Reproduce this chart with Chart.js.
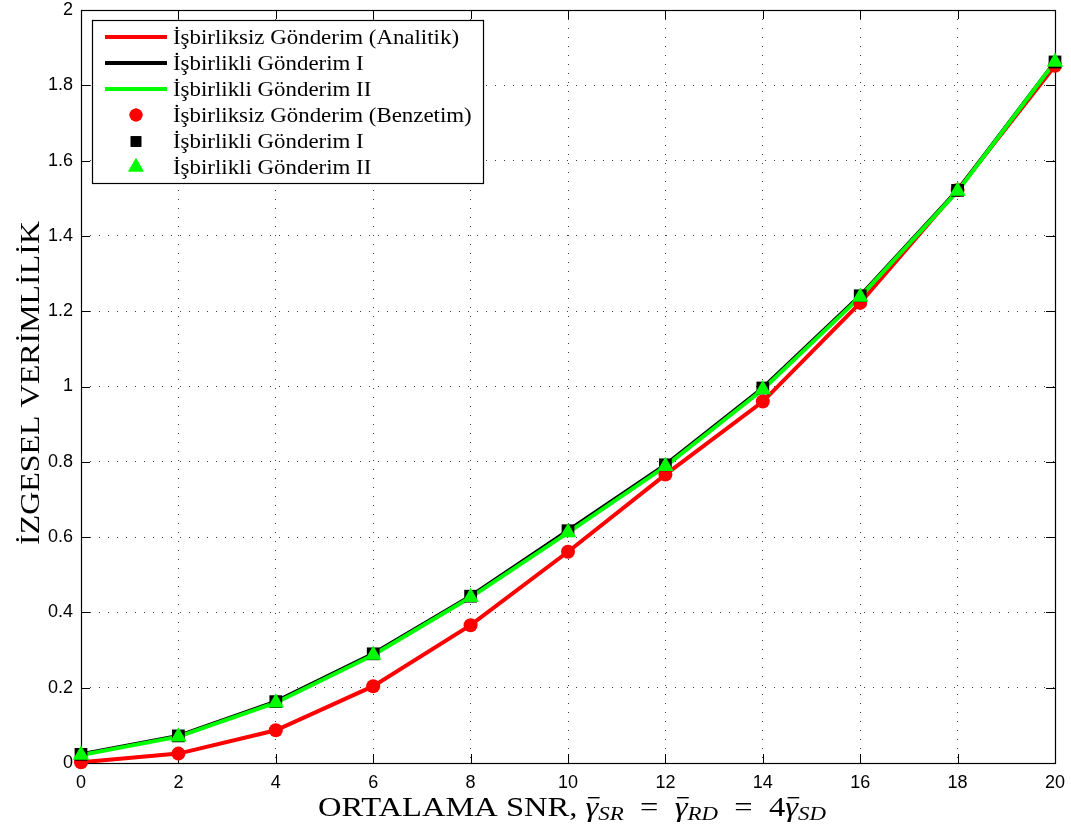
<!DOCTYPE html>
<html>
<head>
<meta charset="utf-8">
<script src="https://cdn.jsdelivr.net/npm/chart.js@4.4.1/dist/chart.umd.min.js"></script>
<style>
  html, body { margin: 0; padding: 0; background: #fff; }
</style>
</head>
<body>
<canvas id="verim" width="1071" height="834"></canvas>
<script>
// SNR (dB) values on the x axis
const snr = [0, 2, 4, 6, 8, 10, 12, 14, 16, 18, 20];
// spectral efficiency for each scheme
const isbirliksiz = [0.002, 0.025, 0.087, 0.204, 0.366, 0.561, 0.766, 0.960, 1.222, 1.522, 1.852];
const isbirlikliI = [0.023, 0.072, 0.163, 0.290, 0.443, 0.617, 0.792, 0.996, 1.241, 1.521, 1.862];
const isbirlikliII = [0.021, 0.070, 0.160, 0.287, 0.440, 0.612, 0.788, 0.992, 1.238, 1.519, 1.862];
const xTicks = [0, 2, 4, 6, 8, 10, 12, 14, 16, 18, 20];
const yTicks = [0, 0.2, 0.4, 0.6, 0.8, 1, 1.2, 1.4, 1.6, 1.8, 2];

const seriesLabels = [
  'İşbirliksiz Gönderim (Analitik)',
  'İşbirlikli Gönderim I',
  'İşbirlikli Gönderim II',
  'İşbirliksiz Gönderim (Benzetim)',
  'İşbirlikli Gönderim I',
  'İşbirlikli Gönderim II'
];

const SERIF = '"Liberation Serif", "DejaVu Serif", serif';
const SANS = '"Liberation Sans", Arial, sans-serif';

const pts = ys => snr.map((x, i) => ({ x: x, y: ys[i] }));

function lineSet(label, ys, color, order) {
  return {
    label: label, data: pts(ys), borderColor: color, backgroundColor: color,
    borderWidth: 4, pointRadius: 0, tension: 0, order: order, kind: 'line'
  };
}
function markSet(label, ys, color, style, r, order) {
  return {
    label: label, data: pts(ys), showLine: false, borderColor: color,
    backgroundColor: color, borderWidth: 0, pointStyle: style, pointRadius: r,
    pointHoverRadius: r, order: order, clip: false, kind: 'mark'
  };
}

const datasets = [
  lineSet(seriesLabels[0], isbirliksiz, '#ff0000', 6),
  lineSet(seriesLabels[1], isbirlikliI, '#000000', 5),
  lineSet(seriesLabels[2], isbirlikliII, '#00ff00', 4),
  markSet(seriesLabels[3], isbirliksiz, '#ff0000', 'circle', 7, 3),
  markSet(seriesLabels[4], isbirlikliI, '#000000', 'rect', 9, 2),
  markSet(seriesLabels[5], isbirlikliII, '#00ff00', 'triangle', 9.5, 1)
];

// draws text stretched horizontally so it spans `width` pixels
function fitText(ctx, text, x, y, width) {
  const w = ctx.measureText(text).width;
  ctx.save();
  ctx.translate(x, y);
  ctx.scale(width / w, 1);
  ctx.fillText(text, 0, 0);
  ctx.restore();
}

// frame, inward ticks, axis titles and the boxed legend
const matlabLook = {
  id: 'matlabLook',
  beforeDatasetsDraw(chart) {
    const { ctx, chartArea: a, scales } = chart;
    ctx.save();
    ctx.strokeStyle = '#000';
    ctx.lineWidth = 1;
    ctx.beginPath();
    const tl = 9;
    xTicks.forEach(v => {
      const px = Math.round(scales.x.getPixelForValue(v)) + 0.5;
      ctx.moveTo(px, a.bottom); ctx.lineTo(px, a.bottom - tl);
      ctx.moveTo(px, a.top); ctx.lineTo(px, a.top + tl);
    });
    yTicks.forEach(v => {
      const py = Math.round(scales.y.getPixelForValue(v)) + 0.5;
      ctx.moveTo(a.left, py); ctx.lineTo(a.left + tl, py);
      ctx.moveTo(a.right, py); ctx.lineTo(a.right - tl, py);
    });
    ctx.stroke();
    ctx.lineWidth = 1.2;
    ctx.strokeRect(Math.round(a.left) + 0.5, Math.round(a.top) + 0.5,
      Math.round(a.right - a.left), Math.round(a.bottom - a.top));
    ctx.restore();
  },
  afterDraw(chart) {
    const { ctx, chartArea: a } = chart;
    ctx.save();
    ctx.fillStyle = '#000';

    // y axis title
    ctx.save();
    ctx.translate(32, 383);
    ctx.rotate(-Math.PI / 2);
    ctx.font = '28px ' + SERIF;
    ctx.textBaseline = 'middle';
    const yt = 'İZGESEL VERİMLİLİK';
    fitText(ctx, yt, -162, 0, 324);
    ctx.restore();

    // x axis title with barred gammas and subscripts
    const sp = '\u2002';
    const parts = [
      { t: 'ORTALAMA SNR, ', f: '27px ' + SERIF },
      { t: 'γ', f: 'italic 27px ' + SERIF, bar: true },
      { t: 'SR', f: 'italic 19px ' + SERIF, sub: true },
      { t: sp + '=' + sp, f: '27px ' + SERIF },
      { t: 'γ', f: 'italic 27px ' + SERIF, bar: true },
      { t: 'RD', f: 'italic 19px ' + SERIF, sub: true },
      { t: sp + '=' + sp + '4', f: '27px ' + SERIF },
      { t: 'γ', f: 'italic 27px ' + SERIF, bar: true },
      { t: 'SD', f: 'italic 19px ' + SERIF, sub: true }
    ];
    let total = 0;
    parts.forEach(p => { ctx.font = p.f; p.w = ctx.measureText(p.t).width; total += p.w; });
    const targetW = 508;
    const sx = targetW / total;
    const base = 816;
    ctx.save();
    ctx.translate(318, base);
    ctx.scale(sx, 1);
    ctx.textAlign = 'left';
    ctx.textBaseline = 'alphabetic';
    let cx = 0;
    parts.forEach(p => {
      ctx.font = p.f;
      ctx.fillText(p.t, cx, p.sub ? 4 : 0);
      if (p.bar) ctx.fillRect(cx + 2, -19, p.w - 1, 1.4);
      cx += p.w;
    });
    ctx.restore();

    // legend box
    const box = { l: 92, t: 20, r: 483, b: 183 };
    ctx.fillStyle = '#fff';
    ctx.fillRect(box.l, box.t, box.r - box.l, box.b - box.t);
    ctx.strokeStyle = '#000';
    ctx.lineWidth = 1.2;
    ctx.strokeRect(box.l + 0.5, box.t + 0.5, box.r - box.l, box.b - box.t);
    const rowY = [37, 63, 89, 115, 141.5, 167];
    ctx.font = '22px ' + SERIF;
    ctx.textBaseline = 'middle';
    const stretch = 286 / ctx.measureText(seriesLabels[0]).width;
    chart.data.datasets.forEach((ds, i) => {
      const y = rowY[i];
      if (ds.kind === 'line') {
        ctx.strokeStyle = ds.borderColor;
        ctx.lineWidth = 4;
        ctx.beginPath();
        ctx.moveTo(105, y); ctx.lineTo(167, y);
        ctx.stroke();
      } else {
        ctx.fillStyle = ds.backgroundColor;
        const r = ds.pointStyle === 'circle' ? 6.5 : ds.pointStyle === 'rect' ? 7.5 : 9;
        Chart.helpers.drawPoint(ctx, { pointStyle: ds.pointStyle, radius: r, borderWidth: 0 }, 136, y);
        ctx.fill();
      }
      ctx.fillStyle = '#000';
      fitText(ctx, ds.label, 173, y + 1, ctx.measureText(ds.label).width * stretch);
    });
    ctx.restore();
  }
};

new Chart(document.getElementById('verim'), {
  type: 'line',
  data: { datasets: datasets },
  plugins: [matlabLook],
  options: {
    responsive: false,
    animation: false,
    events: [],
    layout: { padding: { left: 0, top: 10, right: 16, bottom: 0 } },
    plugins: { legend: { display: false }, tooltip: { enabled: false } },
    scales: {
      x: {
        type: 'linear', min: 0, max: 20,
        afterBuildTicks: s => { s.ticks = xTicks.map(v => ({ value: v })); },
        afterFit: s => { s.height = 71; s.paddingLeft = 0; s.paddingRight = 0; },
        ticks: { color: '#000', font: { family: SANS, size: 18 }, padding: 9, maxRotation: 0 },
        grid: { color: 'rgba(0,0,0,0.75)', lineWidth: 1, drawTicks: false },
        border: { display: false, dash: [1, 8] }
      },
      y: {
        type: 'linear', min: 0, max: 2,
        afterBuildTicks: s => { s.ticks = yTicks.map(v => ({ value: v })); },
        afterFit: s => { s.width = 81; s.paddingTop = 0; s.paddingBottom = 0; },
        ticks: {
          color: '#000', font: { family: SANS, size: 18 }, padding: 8,
          callback: v => String(+Number(v).toFixed(1))
        },
        grid: { color: 'rgba(0,0,0,0.75)', lineWidth: 1, drawTicks: false },
        border: { display: false, dash: [1, 8] }
      }
    }
  }
});
</script>
</body>
</html>
